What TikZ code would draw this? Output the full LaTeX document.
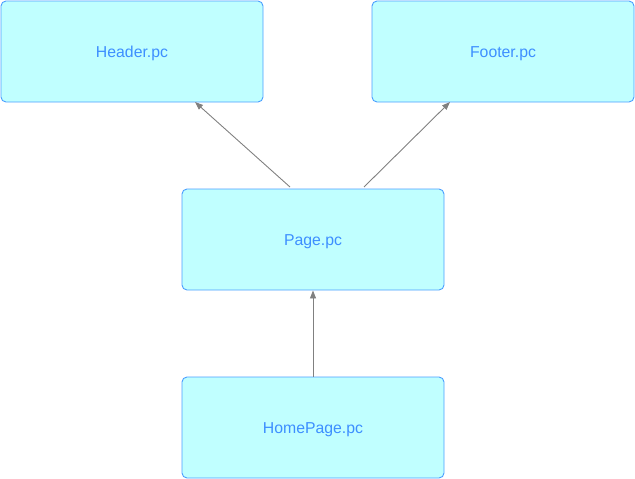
\documentclass[tikz,border=0pt]{standalone}
\usepackage{fontspec}
\setmainfont{Liberation Sans}
\usetikzlibrary{arrows.meta}
\definecolor{boxfill}{HTML}{C0FFFF}
\definecolor{boxline}{HTML}{4A9EFF}
\definecolor{boxtext}{HTML}{3D8FFF}
\definecolor{linkgray}{HTML}{808080}
\tikzset{
  filebox/.style={draw=boxline, fill=boxfill, rounded corners=5pt, line width=0.9pt,
    minimum width=262pt, minimum height=101pt, inner sep=0pt,
    text height=11pt, text depth=0pt,
    text=boxtext, font=\fontsize{15.8pt}{18pt}\selectfont},
  link/.style={draw=linkgray, line width=0.9pt, -{Triangle[length=8pt,width=6pt]}}
}
\begin{document}
\begin{tikzpicture}[x=1pt, y=-1pt]
\useasboundingbox (0,0) rectangle (635,479);
\node[filebox] (header) at (132,51.5) {Header.pc};
\node[filebox] (footer) at (503,51.5) {Footer.pc};
\node[filebox] (page) at (313,239.5) {Page.pc};
\node[filebox] (home) at (313,427.5) {HomePage.pc};
\coordinate (pl) at (290,187);
\coordinate (pr) at (364,187);
\coordinate (hb) at (195,102);
\coordinate (fb) at (450,102);
\draw[link] (pl) -- (hb);
\draw[link] (pr) -- (fb);
\draw[link] (home.north) -- (page.south);
\end{tikzpicture}
\end{document}
